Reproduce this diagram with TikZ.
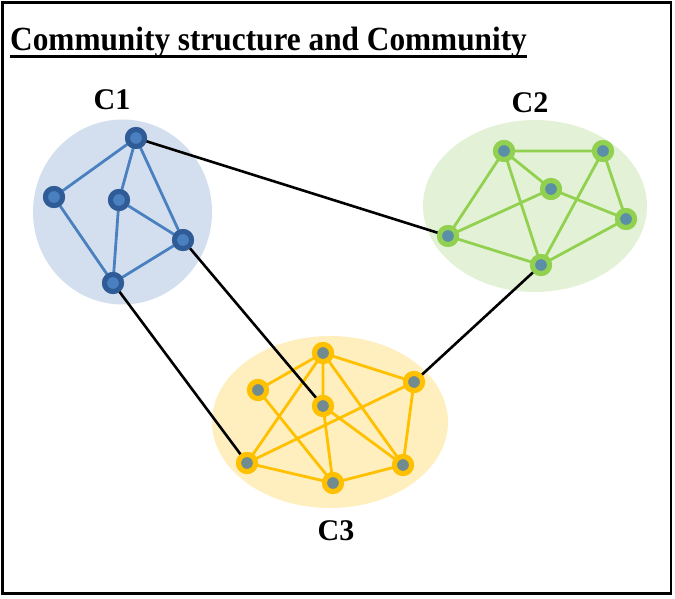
\documentclass[tikz,border=0pt]{standalone}
\usepackage{fontspec}
\setmainfont{Liberation Serif}
\definecolor{bfill}{HTML}{D3DFEE}
\definecolor{bring}{HTML}{2F5C96}
\definecolor{bcore}{HTML}{4A80C0}
\definecolor{bedge}{HTML}{4A80C0}
\definecolor{gfill}{HTML}{E3F2D6}
\definecolor{gring}{HTML}{92D050}
\definecolor{gcore}{HTML}{5B8FA8}
\definecolor{yfill}{HTML}{FFEFBF}
\definecolor{yring}{HTML}{FFC000}
\definecolor{ycore}{HTML}{718C90}
\tikzset{
  bnode/.style={circle, fill=bcore, draw=bring, line width=5pt, minimum size=17pt, inner sep=0pt},
  gnode/.style={circle, fill=gcore, draw=gring, line width=5pt, minimum size=17pt, inner sep=0pt},
  ynode/.style={circle, fill=ycore, draw=yring, line width=5pt, minimum size=17pt, inner sep=0pt},
  bline/.style={draw=bedge, line width=2.8pt},
  gline/.style={draw=gring, line width=2.8pt},
  yline/.style={draw=yring, line width=2.8pt},
  kline/.style={draw=black, line width=2.6pt},
  clabel/.style={font=\fontsize{30}{30}\selectfont\bfseries, inner sep=0pt}
}
\begin{document}
\begin{tikzpicture}[x=1pt,y=-1pt]
\useasboundingbox (0,0) rectangle (675,599);
\draw[line width=2.5pt] (2.5,2.5) rectangle (671,593.5);
\node[anchor=base west, inner sep=0pt, yscale=1.08, font=\fontsize{31.3}{31.3}\selectfont\bfseries] (title) at (10,51) {Community structure and Community};
\draw[line width=3pt] ([yshift=-5.5pt]title.base west) -- ([yshift=-5.5pt]title.base east);

% community backgrounds
\fill[bfill] (122.5,212) ellipse [x radius=89.5, y radius=92.5];
\fill[gfill] (535,206) ellipse [x radius=112, y radius=86];
\fill[yfill] (330,422) ellipse [x radius=118, y radius=86];

\node[clabel] (L1) at (112,100) {C1};
\node[clabel] (L2) at (530,103) {C2};
\node[clabel] (L3) at (336,531) {C3};

% C1 nodes
\node[bnode] (a1) at (136,138) {};
\node[bnode] (b1) at (54,197) {};
\node[bnode] (c1) at (119,200) {};
\node[bnode] (d1) at (183,240) {};
\node[bnode] (e1) at (113,283) {};
% C2 nodes
\node[gnode] (a2) at (504,151) {};
\node[gnode] (b2) at (603,151) {};
\node[gnode] (c2) at (551,189) {};
\node[gnode] (d2) at (626,219) {};
\node[gnode] (e2) at (448,236) {};
\node[gnode] (f2) at (541,265) {};
% C3 nodes
\node[ynode] (a3) at (323,353) {};
\node[ynode] (b3) at (258,390) {};
\node[ynode] (c3) at (414,382) {};
\node[ynode] (d3) at (323,406) {};
\node[ynode] (e3) at (247,463) {};
\node[ynode] (f3) at (403,465) {};
\node[ynode] (g3) at (333,483) {};

% edges inside communities
\path[bline] (a1.center) -- (b1.center) (a1.center) -- (c1.center) (a1.center) -- (d1.center)
  (b1.center) -- (e1.center) (c1.center) -- (e1.center) (c1.center) -- (d1.center) (d1.center) -- (e1.center);
\path[gline] (a2.center) -- (b2.center) (a2.center) -- (c2.center) (a2.center) -- (e2.center) (a2.center) -- (f2.center)
  (c2.center) -- (e2.center) (c2.center) -- (d2.center) (b2.center) -- (d2.center) (b2.center) -- (f2.center)
  (e2.center) -- (f2.center) (f2.center) -- (d2.center);
\path[yline] (a3.center) -- (b3.center) (a3.center) -- (c3.center) (a3.center) -- (d3.center) (a3.center) -- (e3.center)
  (a3.center) -- (f3.center) (b3.center) -- (g3.center) (c3.center) -- (e3.center) (c3.center) -- (f3.center)
  (d3.center) -- (g3.center) (d3.center) -- (f3.center) (e3.center) -- (g3.center) (g3.center) -- (f3.center);

% redraw nodes on top of edges
\foreach \n/\s in {a1/bnode,b1/bnode,c1/bnode,d1/bnode,e1/bnode,
  a2/gnode,b2/gnode,c2/gnode,d2/gnode,e2/gnode,f2/gnode,
  a3/ynode,b3/ynode,c3/ynode,d3/ynode,e3/ynode,f3/ynode,g3/ynode}{
  \node[\s] at (\n.center) {};
}

% inter-community links
\draw[kline] (a1) -- (e2);
\draw[kline] (d1) -- (d3);
\draw[kline] (e1) -- (e3);
\draw[kline] (f2) -- (c3);
\end{tikzpicture}
\end{document}
